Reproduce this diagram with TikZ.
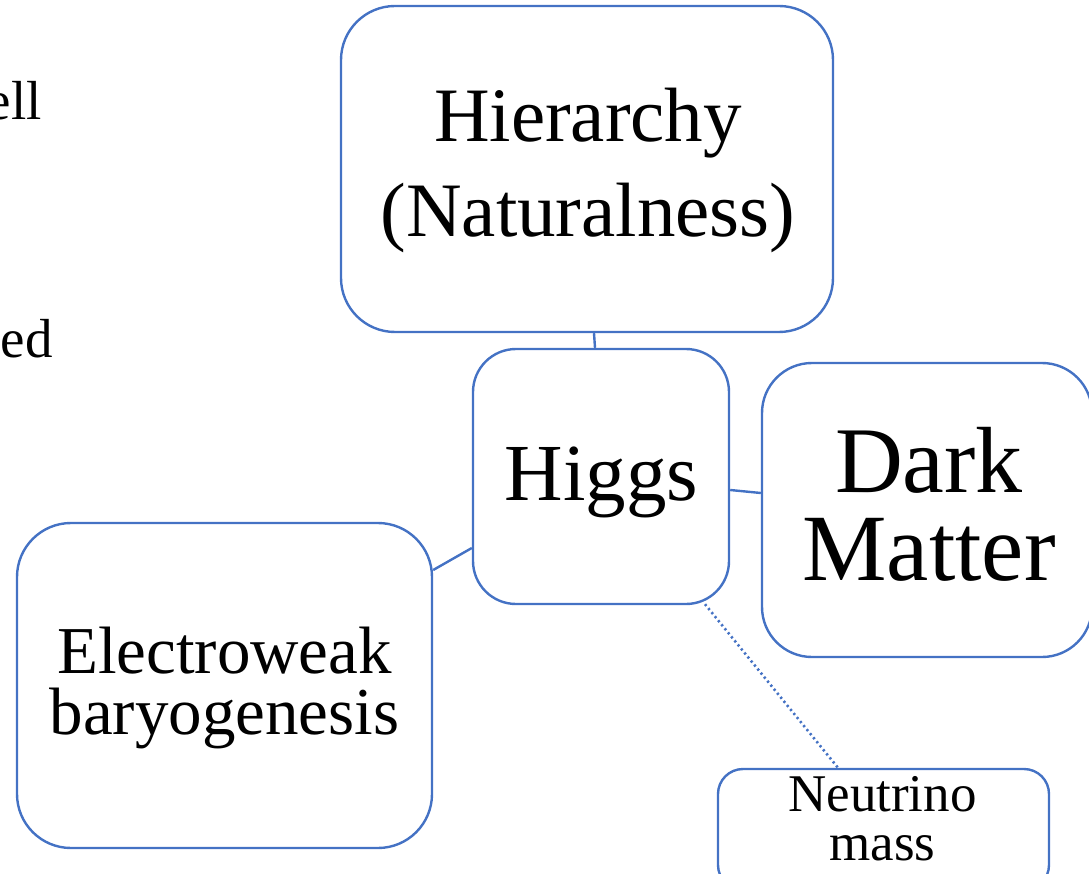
\documentclass[tikz,border=0pt]{standalone}
\usepackage{fontspec}
\setmainfont{Liberation Serif}
\definecolor{edgeblue}{HTML}{4472C4}
\begin{document}
\begin{tikzpicture}[x=1pt,y=-1pt,
  box/.style={draw=edgeblue, line width=2.4pt, rounded corners=#1, inner sep=0pt, fill=none},
  link/.style={draw=edgeblue, line width=2.4pt},
  dotlink/.style={draw=edgeblue, line width=2.6pt, dash pattern=on 2.2pt off 3pt},
  txt/.style={anchor=base, inner sep=0pt, text=black}]
\useasboundingbox (0,0) rectangle (1089,874);
\clip (0,0) rectangle (1089,874);
% boxes
\node[box=54pt, minimum width=492pt, minimum height=326pt] (hier) at (587,169) {};
\node[box=43pt, minimum width=256pt, minimum height=255pt] (higgs) at (601,476.5) {};
\node[box=50pt, minimum width=330pt, minimum height=294pt] (dark) at (927,510) {};
\node[box=54pt, minimum width=415pt, minimum height=325pt] (ew) at (224.5,685.5) {};
\node[box=25pt, minimum width=331pt, minimum height=121pt] (nu) at (883.5,829.5) {};
% texts
\node[txt, font=\fontsize{77}{90}\selectfont] (hierA) at (588,142) {Hierarchy};
\node[txt, font=\fontsize{77}{90}\selectfont] (hierB) at (588,237) {(Naturalness)};
\node[txt, font=\fontsize{81}{90}\selectfont] (higgsT) at (601.5,500) {Higgs};
\node[txt, font=\fontsize{94}{100}\selectfont] (darkA) at (929,492) {Dark};
\node[txt, font=\fontsize{95}{100}\selectfont] (darkB) at (929,580) {Matter};
\node[txt, font=\fontsize{67}{70}\selectfont] (ewA) at (224.5,673) {Electroweak};
\node[txt, font=\fontsize{67}{70}\selectfont] (ewB) at (224.5,734) {baryogenesis};
\node[txt, font=\fontsize{53}{60}\selectfont] (nuA) at (882.5,811) {Neutrino};
\node[txt, font=\fontsize{53}{60}\selectfont] (nuB) at (882.5,860) {mass};
\node[txt, anchor=base east, font=\fontsize{55}{60}\selectfont] (cutA) at (42,120) {ell};
\node[txt, anchor=base east, font=\fontsize{55}{60}\selectfont] (cutB) at (53,357) {ed};
% connectors
\draw[link] ([xshift=7pt]hier.south) -- ([xshift=-6pt]higgs.north);
\draw[link] ([yshift=-13.5pt]higgs.east) -- ([yshift=17pt]dark.west);
\draw[link] ([yshift=-71.5pt]higgs.west) -- ([yshift=115.5pt]ew.east);
\draw[dotlink] ([xshift=104pt,yshift=1pt]higgs.south) -- ([xshift=-45.5pt]nu.north);
\end{tikzpicture}
\end{document}
